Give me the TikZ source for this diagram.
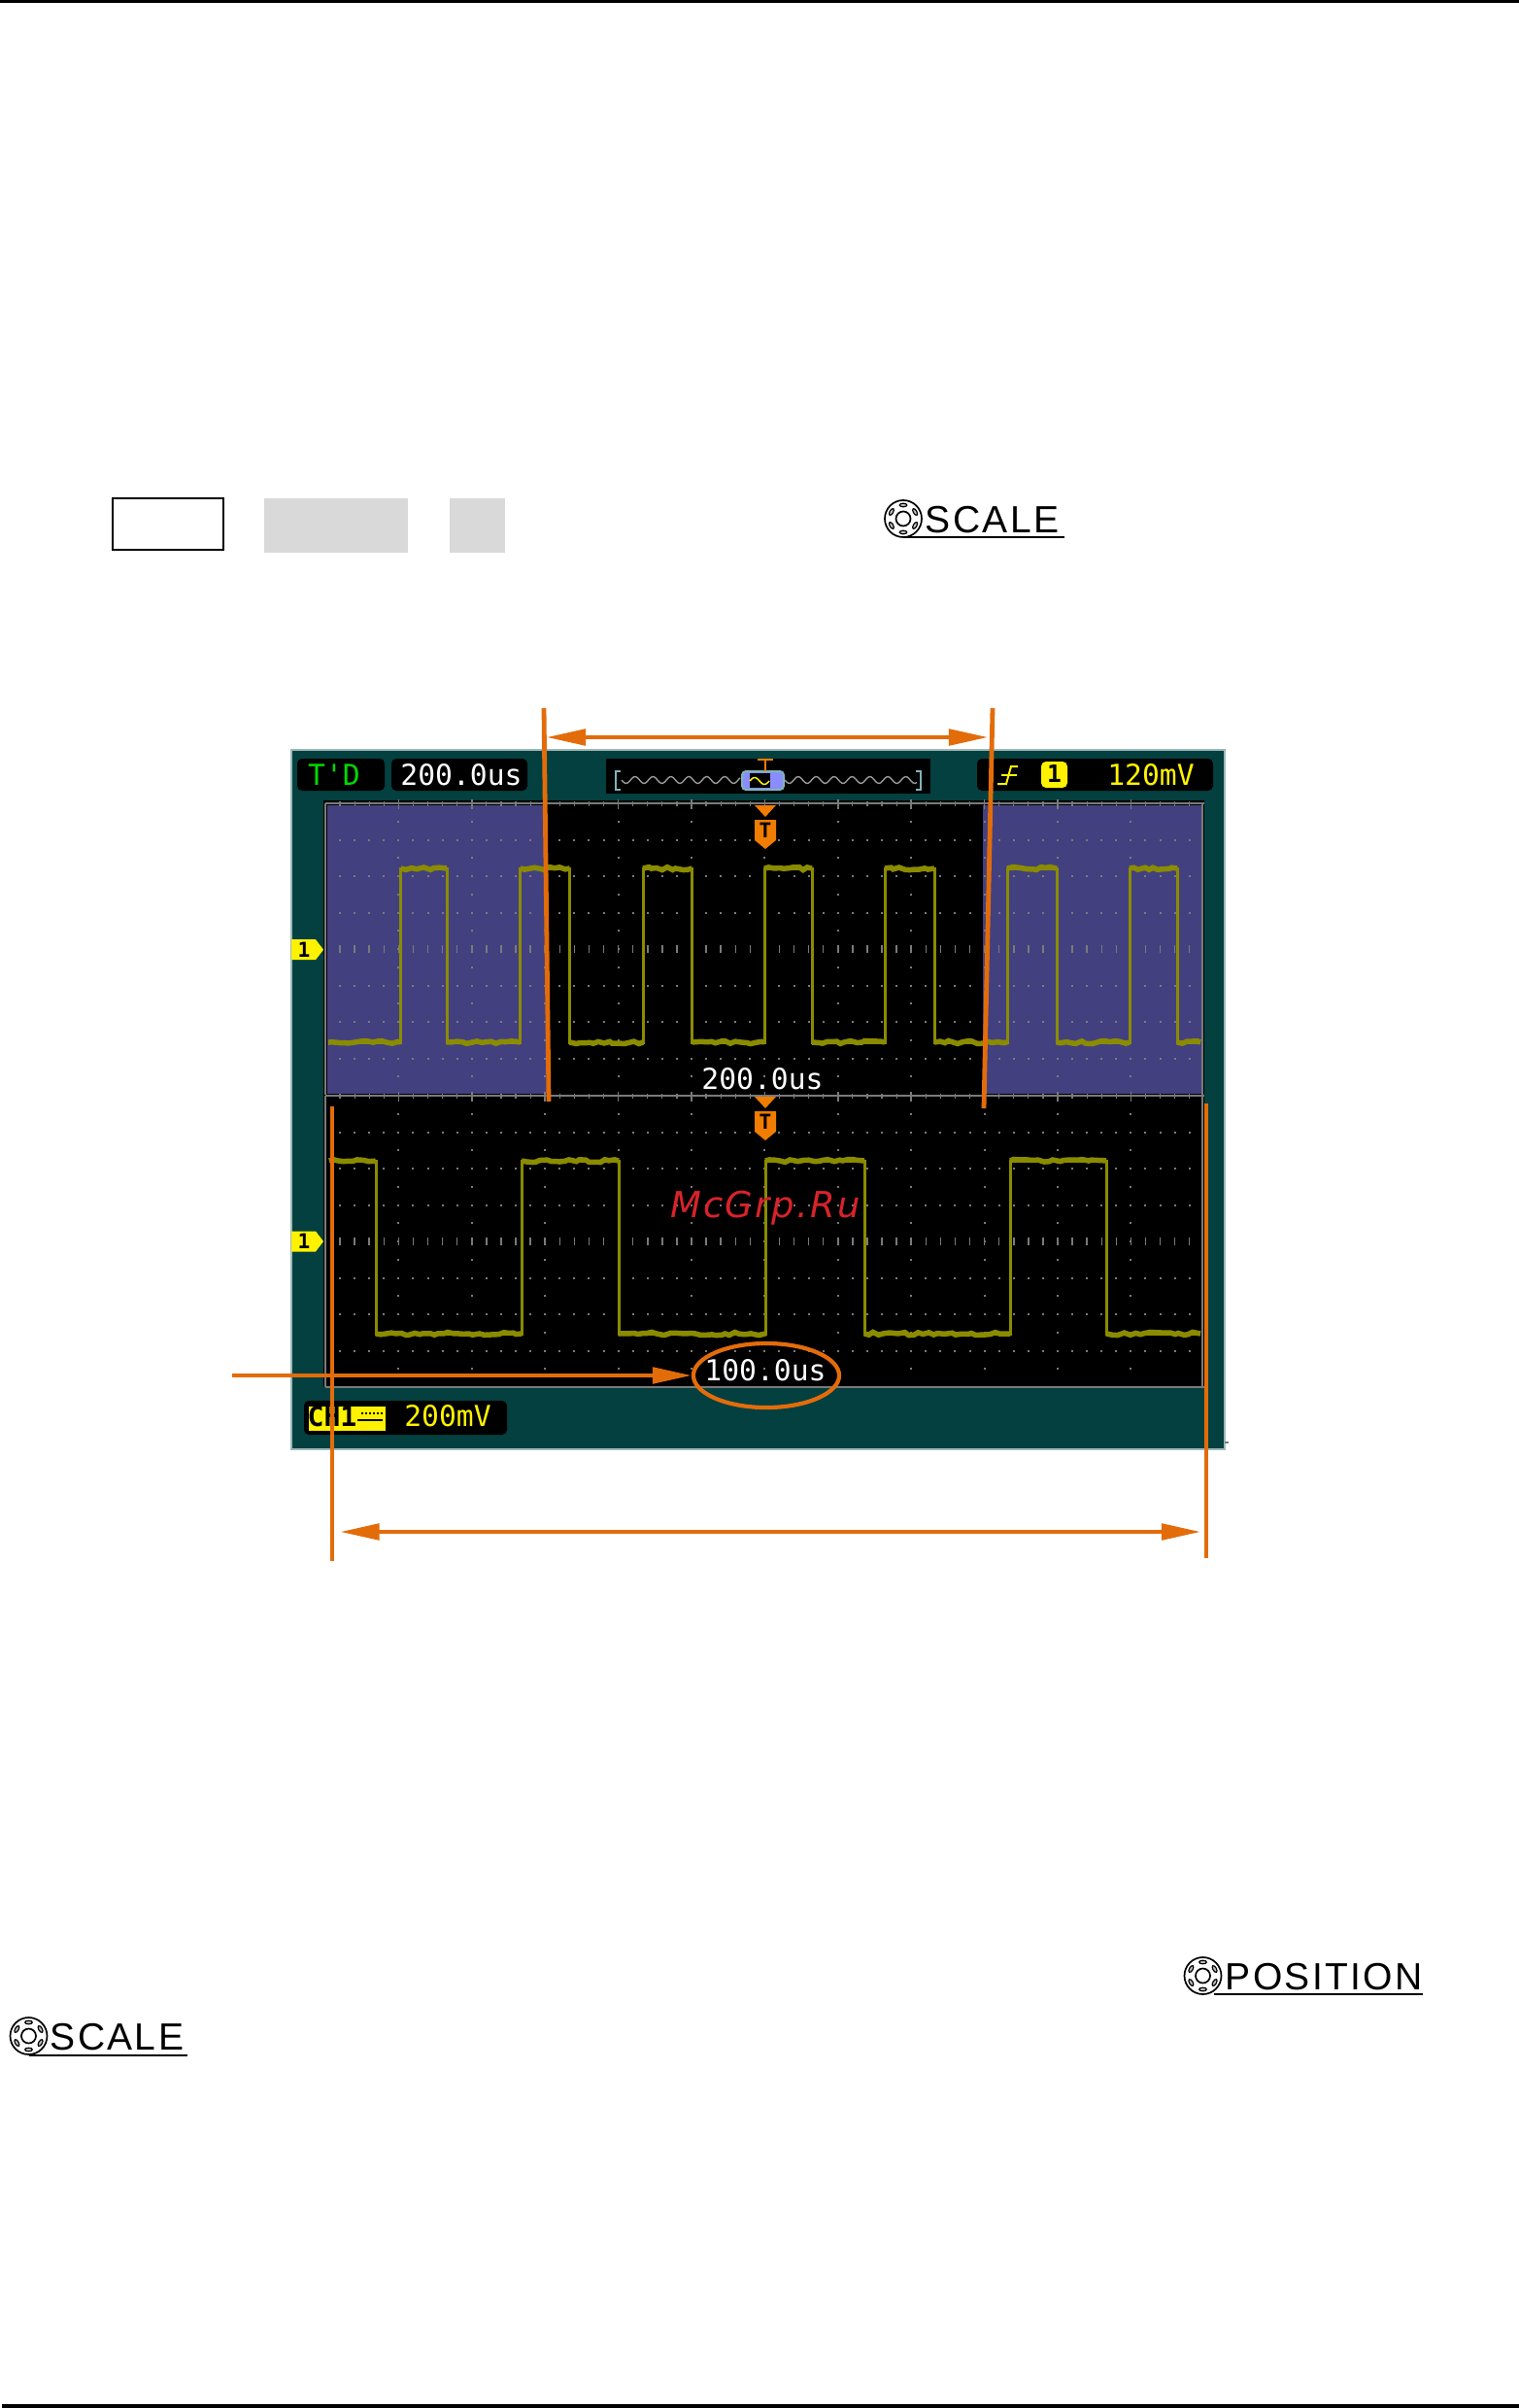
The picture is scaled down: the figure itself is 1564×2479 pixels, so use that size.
\documentclass[tikz,border=0pt]{standalone}
\usepackage{xcolor}
\usepackage{fontspec}
\usepackage{tikz}
\usetikzlibrary{arrows.meta}
\usetikzlibrary{shapes.geometric}
\usetikzlibrary{decorations.pathmorphing}

\setmainfont{Liberation Sans}
\newfontfamily\labelfont[LetterSpace=6]{Liberation Sans}
\newfontfamily\scopefont{DejaVu Sans Mono}
\newfontfamily\markfont[LetterSpace=6]{DejaVu Sans}

\definecolor{scopeteal}{HTML}{03403F}
\definecolor{scopeedge}{HTML}{9DB8B8}
\definecolor{purplezone}{HTML}{43407F}
\definecolor{trace}{HTML}{8B8B00}
\definecolor{callout}{HTML}{E36C0A}
\definecolor{trig}{HTML}{F07C00}
\definecolor{griddot}{HTML}{7A7A7A}
\definecolor{softgray}{HTML}{D9D9D9}
\definecolor{winblue}{HTML}{8A8CFF}
\definecolor{winedge}{HTML}{7FB5B5}
\definecolor{stamp}{HTML}{D8232A}

\tikzset{
    readout/.style = {inner sep=0, anchor=base, font=\fontsize{8.45}{10}\selectfont\scopefont},
    softlabel/.style = {inner sep=0, anchor=base west, font=\fontsize{11.1}{13}\selectfont\labelfont},
    blackbox/.style = {fill=black, rounded corners=.05cm},
    calloutline/.style = {callout, line width=.048cm},
    calloutarrow/.style = {callout, line width=.038cm, -{Triangle[length=.4cm, width=.165cm]}},
    doublearrow/.style = {callout, line width=.038cm, {Triangle[length=.4cm, width=.165cm]}-{Triangle[length=.4cm, width=.165cm]}},
    flat/.style = {trace, line width=.055cm, decorate, decoration={random steps, segment length=.05cm, amplitude=.016cm}},
    knob/.pic = {
        \draw[line width=.017cm] (0, 0) circle (19);
        \draw[line width=.017cm] (0, 0) circle (7.5);
        \foreach \a in {30, 90, 150, 210, 270, 330}
            \draw[line width=.012cm, rotate=\a, fill=gray!50] (14, 0) ellipse (1.8 and 3.8);
    }
}

\begin{document}
\begin{tikzpicture}[x=.01cm, y=-.01cm]
        \useasboundingbox (0, 0) rectangle (1564, 2479);
        \pgfmathsetseed{11}

        \fill[black] (0, 0) rectangle (1564, 3);
        \fill[black] (2, 2475) rectangle (1564, 2479);

        \draw[line width=.02cm] (116, 513) rectangle (230, 566);
        \fill[softgray] (272, 513) rectangle (420, 569);
        \fill[softgray] (463, 513) rectangle (520, 569);

        \pic at (930, 534) {knob};
        \node[softlabel] (scaletop) at (952, 548) {SCALE};
        \draw[line width=.02cm] (931, 553) -- (1096, 553);

        \pic at (1238.5, 2034) {knob};
        \node[softlabel] (position) at (1261, 2048) {POSITION};
        \draw[line width=.02cm] (1250, 2053) -- (1465, 2053);

        \pic at (29.5, 2096) {knob};
        \node[softlabel] (scalelow) at (51, 2110) {SCALE};
        \draw[line width=.02cm] (30, 2116) -- (193, 2116);

        \draw[scopeedge, fill=scopeteal, line width=.015cm] (300, 772) rectangle (1261, 1492);
        \draw[griddot, line width=.012cm] (1261, 1485) -- (1265, 1485);

        \fill[black] (333, 824) rectangle (1240, 1428);
        \fill[purplezone] (337, 829) rectangle (563, 1126);
        \fill[purplezone] (1012, 829) rectangle (1238, 1126);

        \foreach \ytop in {827, 1128} {
            \draw[griddot, line width=.02cm] (335, \ytop) -- (1240, \ytop);
            \draw[griddot, line width=.02cm] (335, \ytop) -- (335, \ytop + 300);
            \draw[griddot, line width=.02cm] (1238, \ytop) -- (1238, \ytop + 300);
            \foreach \k in {1, ..., 59}
                \draw[griddot, line width=.012cm] (335 + \k * 15.08, \ytop - 2) -- (335 + \k * 15.08, \ytop + 3);
            \foreach \k in {1, ..., 11} {
                \draw[griddot, line width=.015cm] (335 + \k * 75.4, \ytop - 4) -- (335 + \k * 75.4, \ytop + 6);
                \foreach \j in {1, ..., 15}
                    \fill[griddot] (335 + \k * 75.4 - 1, \ytop + \j * 18.75 - 1) rectangle +(2, 2);
            }
            \foreach \j in {1, 2, 3, 5, 6, 7}
                \foreach \k in {1, ..., 59}
                    \fill[griddot] (335 + \k * 15.08 - 1, \ytop + \j * 37.5 - 1) rectangle +(2, 2);
            \foreach \k in {1, ..., 59}
                \draw[griddot, line width=.015cm] (335 + \k * 15.08, \ytop + 146) -- (335 + \k * 15.08, \ytop + 154);
        }
        \draw[griddot, line width=.02cm] (335, 1428) -- (1240, 1428);

        \draw[trace, line width=.03cm] (338, 1073) -- (412.7, 1073) -- (412.7, 894) -- (460, 894) -- (460, 1073)
            -- (535.7, 1073) -- (535.7, 894) -- (586.7, 894) -- (586.7, 1073) -- (662, 1073) -- (662, 894)
            -- (712.7, 894) -- (712.7, 1073) -- (787, 1073) -- (787, 894) -- (836, 894) -- (836, 1073)
            -- (911, 1073) -- (911, 894) -- (962, 894) -- (962, 1073) -- (1037, 1073) -- (1037, 894)
            -- (1088, 894) -- (1088, 1073) -- (1163, 1073) -- (1163, 894) -- (1212, 894) -- (1212, 1073) -- (1236, 1073);
        \foreach \xa/\xb/\yv in {338/412.7/1073, 412.7/460/894, 460/535.7/1073, 535.7/586.7/894,
                586.7/662/1073, 662/712.7/894, 712.7/787/1073, 787/836/894, 836/911/1073, 911/962/894,
                962/1037/1073, 1037/1088/894, 1088/1163/1073, 1163/1212/894, 1212/1236/1073}
            \draw[flat] (\xa, \yv) -- (\xb, \yv);

        \draw[trace, line width=.03cm] (339, 1195) -- (387, 1195) -- (387, 1373) -- (537, 1373) -- (537, 1195)
            -- (637, 1195) -- (637, 1373) -- (788, 1373) -- (788, 1195) -- (890, 1195) -- (890, 1373)
            -- (1040, 1373) -- (1040, 1195) -- (1139, 1195) -- (1139, 1373) -- (1236, 1373);
        \foreach \xa/\xb/\yv in {339/387/1195, 387/537/1373, 537/637/1195, 637/788/1373, 788/890/1195,
                890/1040/1373, 1040/1139/1195, 1139/1236/1373}
            \draw[flat] (\xa, \yv) -- (\xb, \yv);

        \fill[blackbox] (306, 781) rectangle (396, 814);
        \node[readout, text=green!85!black] (tdmode) at (344, 808) {T' \hspace{-.6em}D};
        \fill[blackbox] (403, 781) rectangle (543, 814);
        \node[readout, text=white] (timebase) at (475, 808) {200.0us};

        \fill[black] (624, 781) rectangle (958, 817);
        \draw[gray!80, line width=.014cm] plot[domain=0:122, samples=70] (640 + \x, {803 + 3.5 * sin(\x * 19.5)});
        \draw[gray!80, line width=.014cm] plot[domain=0:136, samples=70] (808 + \x, {803 + 3.5 * sin(\x * 19.5)});
        \draw[winedge, line width=.02cm] (639, 794) -- (634, 794) -- (634, 813) -- (639, 813);
        \draw[winedge, line width=.02cm] (943, 794) -- (948, 794) -- (948, 813) -- (943, 813);
        \draw[winedge, fill=winblue, line width=.02cm, rounded corners=.04cm] (764, 794) rectangle (807, 813);
        \fill[black] (772, 796) rectangle (793, 811);
        \draw[yellow, line width=.015cm] plot[domain=0:20, samples=20] (772 + \x, {804 - 3.5 * sin(\x * 18)});
        \draw[trig, line width=.02cm] (780, 782) -- (796, 782);
        \draw[trig, line width=.02cm] (788, 782) -- (788, 794);

        \fill[blackbox] (1006, 781) rectangle (1249, 814);
        \draw[yellow, line width=.02cm] (1027, 807) -- (1036, 807) -- (1041, 789) -- (1048, 789);
        \draw[yellow, line width=.02cm] (1031, 798) -- (1047, 798);
        \fill[yellow, rounded corners=.05cm] (1072, 784) rectangle (1099, 811);
        \node[readout, text=black, font=\fontsize{7}{8}\selectfont\bfseries\scopefont] (trigsource) at (1085.5, 805) {1};
        \node[readout, text=yellow] (triglevel) at (1185, 808) {120mV};

        \fill[blackbox] (313, 1442) rectangle (522, 1477);
        \fill[yellow] (318, 1448) rectangle (397, 1473);
        \node[readout, text=black, font=\fontsize{8}{10}\selectfont\bfseries\scopefont] (chname) at (342, 1468) {CH1};
        \draw[black, line width=.012cm, dash pattern=on .02cm off .02cm] (372, 1455) -- (394, 1455);
        \draw[black, line width=.018cm] (368, 1462) -- (394, 1462);
        \node[readout, text=yellow] (chscale) at (461, 1468) {200mV};

        \foreach \markpos/\name in {977.7/upper, 1278/lower} {
            \fill[yellow] (300, \markpos - 10.5) -- (325, \markpos - 10.5) -- (333, \markpos) -- (325, \markpos + 10.5) -- (300, \markpos + 10.5) -- cycle;
            \node[readout, anchor=center, text=black, font=\fontsize{6}{7}\selectfont\bfseries\scopefont] (chmark\name) at (313, \markpos) {1};
        }

        \foreach \shift/\name in {0/upper, 300/lower} {
            \fill[trig] (777, 829 + \shift) -- (799, 829 + \shift) -- (788, 841 + \shift) -- cycle;
            \fill[trig] (777, 844 + \shift) -- (799, 844 + \shift) -- (799, 865 + \shift) -- (788, 874 + \shift) -- (777, 865 + \shift) -- cycle;
            \node[readout, anchor=center, text=black, font=\fontsize{6}{7}\selectfont\bfseries\scopefont] (trigmark\name) at (788, 855 + \shift) {T};
        }

        \node[readout, text=white] (mainbase) at (785, 1121) {200.0us};
        \node[readout, text=white] (delaybase) at (788, 1421) {100.0us};

        \node[inner sep=0, anchor=base, text=stamp, font=\fontsize{10.5}{12}\selectfont\itshape\markfont] (watermark) at (788, 1253) {McGrp.Ru};

        \coordinate (wintopleft) at (560, 729);
        \coordinate (winbotleft) at (565, 1134);
        \coordinate (wintopright) at (1022, 729);
        \coordinate (winbotright) at (1013, 1141);
        \coordinate (spanleft) at (563, 759);
        \coordinate (spanright) at (1017, 759);
        \coordinate (fulltopleft) at (342, 1139);
        \coordinate (fullbotleft) at (342, 1607);
        \coordinate (fulltopright) at (1242, 1136);
        \coordinate (fullbotright) at (1242, 1604);
        \coordinate (fullleft) at (350.5, 1577);
        \coordinate (fullright) at (1236, 1577);
        \coordinate (pointerstart) at (239, 1416);

        \draw[calloutline] (wintopleft) -- (winbotleft);
        \draw[calloutline] (wintopright) -- (winbotright);
        \draw[doublearrow] (spanleft) -- (spanright);
        \draw[calloutline] (fulltopleft) -- (fullbotleft);
        \draw[calloutline] (fulltopright) -- (fullbotright);
        \draw[doublearrow] (fullleft) -- (fullright);

        \node[draw=callout, line width=.042cm, ellipse, minimum width=1.5cm, minimum height=.66cm, inner sep=0] (delayring) at (789, 1416) {};
        \draw[calloutarrow] (pointerstart) -- (delayring.west);
    \end{tikzpicture}
\end{document}
